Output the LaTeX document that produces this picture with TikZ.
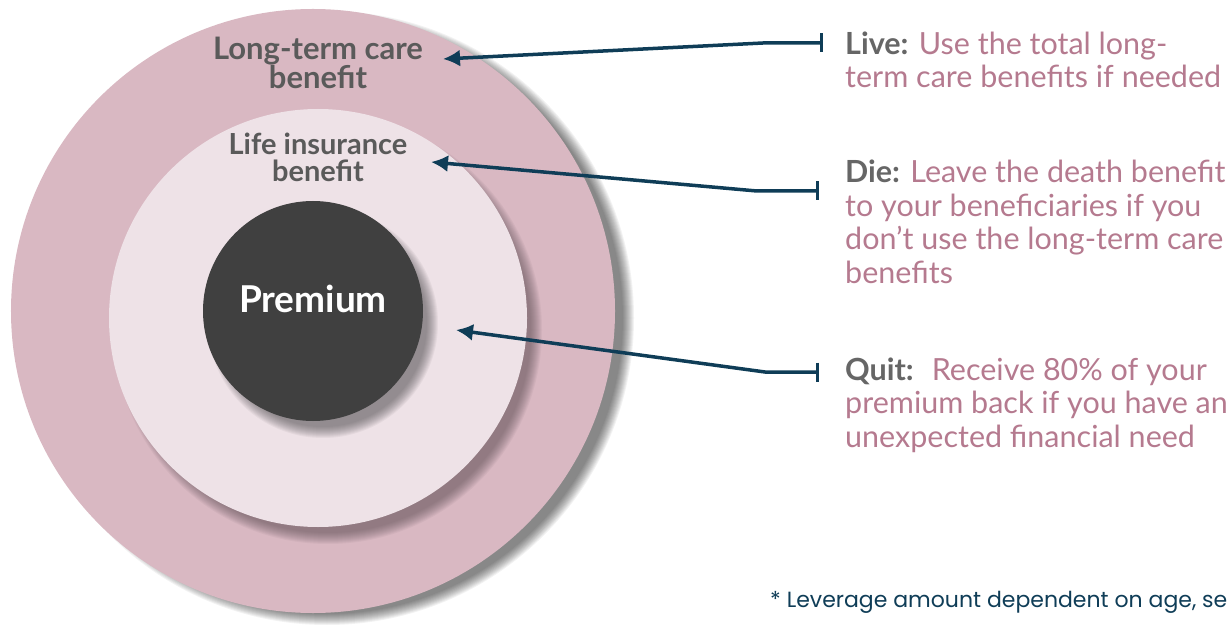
\documentclass[tikz,border=0pt]{standalone}
\usepackage{fontspec}
\setmainfont{Lato}
\newfontfamily\footfont{Poppins}
\usetikzlibrary{arrows.meta}
\definecolor{rosering}{HTML}{D9B8C2}
\definecolor{palering}{HTML}{EEE2E7}
\definecolor{core}{HTML}{404040}
\definecolor{slate}{HTML}{5A5A5A}
\definecolor{keygray}{HTML}{666666}
\definecolor{rose}{HTML}{B57A8F}
\definecolor{navy}{HTML}{0F3D57}
\tikzset{ring/.style={circle,inner sep=0pt},
  ringlabel/.style={text=slate,align=center,inner sep=0pt,anchor=base},
  note/.style={font=\fontsize{30.5bp}{33.5bp}\selectfont,text=rose,align=left,
  anchor=base west,inner sep=0pt},
  conn/.style={{Latex[length=17bp,width=17bp]}-{Bar[width=19bp]},line width=3.5bp,draw=navy}}

\begin{document}
\begin{tikzpicture}[x=1bp,y=-1bp]
\useasboundingbox (0,0) rectangle (1232,625);
% soft shadow under each disc
\foreach \k in {1,...,12}
  \fill[black,opacity=0.05] (327,318) circle ({302+6-\k});
\node[ring,fill=rosering,minimum size=604bp] (ltc) at (313,311) {};
\foreach \k in {1,...,12}
  \fill[black!60!rosering,opacity=0.06] (328,330) circle ({209+6-\k});
\node[ring,fill=palering,minimum size=418bp] (life) at (318,318) {};
\foreach \k in {1,...,12}
  \fill[black!70!palering,opacity=0.06] (323,323) circle ({110+6-\k});
\node[ring,fill=core,minimum size=220bp] (prem) at (313,311) {};
% labels inside the discs
\node[ringlabel,font=\fontsize{31bp}{27bp}\selectfont\bfseries]
  (ltcText) at (318,89) {Long-term care\\benefit};
\node[ringlabel,font=\fontsize{29bp}{27bp}\selectfont\bfseries]
  (lifeText) at (318,182) {Life insurance\\benefit};
\node[font=\fontsize{37bp}{37bp}\selectfont\bfseries,text=white,anchor=base]
  (premText) at (313,313) {Premium};
% outcomes
\node[note] (live) at (845,88) {{\color{keygray}\bfseries Live:} Use the total long-\\term care benefits if needed};
\node[note] (die) at (845,283.5) {{\color{keygray}\bfseries Die:} Leave the death benefit\\to your beneficiaries if you\\don’t use the long-term care\\benefits};
\node[note] (quit) at (845,447) {{\color{keygray}\bfseries Quit:}\hspace{0.25em} Receive 80\% of your\\premium back if you have an\\unexpected financial need};
\node[font=\footfont\fontsize{22bp}{22bp}\selectfont,text=navy,anchor=base west,inner sep=0pt]
  (foot) at (770,607) {* Leverage amount dependent on age, se};
% connectors
\coordinate (liveTip) at (443,59);
\coordinate (dieTip) at (431,162);
\coordinate (quitTip) at (456,330);
\draw[conn] (liveTip) -- (763,43) -- ([xshift=-22bp]live.west |- 0,43);
\draw[conn] (dieTip) -- (757,191) -- ([xshift=-26bp]die.west |- 0,191);
\draw[conn] (quitTip) -- (765,372) -- ([xshift=-26bp]quit.west |- 0,372);
\end{tikzpicture}
\end{document}
